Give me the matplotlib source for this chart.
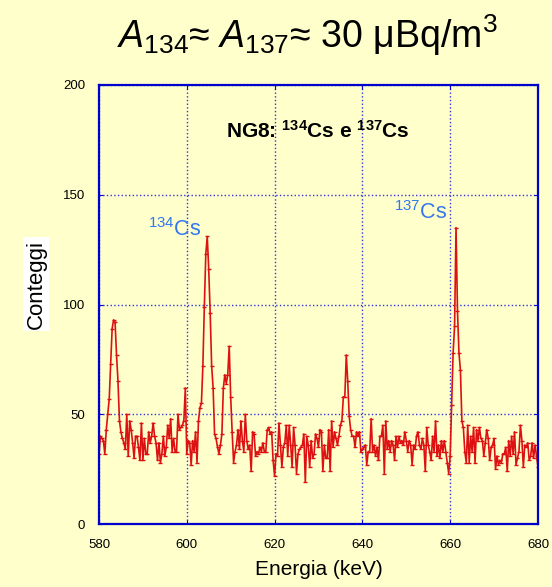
import numpy as np
import matplotlib.pyplot as plt

plt.rcParams['font.family'] = ['Liberation Sans', 'DejaVu Sans']
plt.rcParams['mathtext.fontset'] = 'custom'
plt.rcParams['mathtext.rm'] = 'Liberation Sans'
plt.rcParams['mathtext.it'] = 'Liberation Sans:italic'
plt.rcParams['mathtext.bf'] = 'Liberation Sans:bold'

# spectrum channels, 1/3 keV each, from 580 to 680 keV
e_start, e_stop = 580, 680
counts = [
    32, 40, 39, 38, 32, 43, 50, 57, 73, 89, 93, 92, 77, 65, 47,      # 580-585
    42, 39, 37, 34, 50, 31, 47, 43, 37, 30, 40, 40, 35, 29, 46,      # 585-590
    29, 39, 32, 32, 42, 37, 40, 46, 40, 37, 29, 37, 28, 32, 40,      # 590-595
    31, 35, 45, 39, 48, 33, 39, 33, 33, 50, 43, 44, 45, 47, 62,      # 595-600
    32, 38, 37, 27, 38, 33, 42, 28, 47, 53, 55, 72, 99, 123, 131,    # 600-605
    116, 96, 72, 62, 41, 39, 35, 32, 36, 41, 62, 68, 64, 68, 81,     # 605-610
    58, 42, 28, 33, 36, 43, 34, 47, 38, 33, 50, 38, 34, 36, 24,      # 610-615
    42, 41, 31, 33, 32, 35, 33, 37, 33, 33, 43, 44, 41, 42, 29,      # 615-620
    22, 32, 31, 46, 36, 26, 35, 37, 45, 31, 45, 36, 26, 44, 36,      # 620-625
    23, 32, 34, 35, 36, 41, 19, 40, 36, 26, 38, 30, 32, 41, 39,      # 625-630
    35, 43, 42, 24, 36, 30, 30, 43, 24, 47, 35, 42, 39, 36, 40,      # 630-635
    45, 47, 58, 58, 77, 65, 49, 43, 40, 40, 35, 42, 40, 42, 33,      # 635-640
    34, 35, 36, 27, 33, 33, 48, 33, 36, 31, 35, 29, 40, 40, 45,      # 640-645
    23, 47, 34, 38, 33, 38, 36, 29, 40, 35, 40, 37, 38, 36, 42,      # 645-650
    38, 33, 38, 36, 27, 36, 34, 40, 42, 36, 34, 39, 36, 24, 44,      # 650-655
    36, 33, 29, 40, 33, 47, 31, 36, 30, 38, 33, 38, 33, 28, 23,      # 655-660
    31, 54, 78, 90, 135, 97, 78, 70, 47, 44, 33, 28, 45, 28, 40,     # 660-665
    33, 44, 28, 43, 38, 44, 39, 38, 31, 37, 43, 39, 29, 35, 36,      # 665-670
    39, 25, 31, 27, 29, 28, 32, 32, 35, 24, 38, 31, 40, 32, 42,      # 670-675
    27, 30, 33, 45, 38, 26, 36, 35, 37, 29, 31, 37, 30, 36, 31,      # 675-680
    26,
]
energy = np.linspace(e_start, e_stop, len(counts))

title = r"$\mathit{A}_{134}$≈ $\mathit{A}_{137}$≈ 30 μBq/m$^{3}$"
box_label = r"NG8: $\mathbf{^{134}}$Cs e $\mathbf{^{137}}$Cs"

bg = '#FFFFCC'
blue = '#0000CC'

fig = plt.figure(figsize=(5.52, 5.87), dpi=100, facecolor=bg)
ax = fig.add_axes([0.1793, 0.1073, 0.7953, 0.7479], facecolor=bg)

ax.plot(energy, counts, color='#DD1111', lw=1.2, marker='_', ms=3, mew=1)

ax.set_xlim(580, 680)
ax.set_ylim(0, 200)
ax.set_xticks([580, 600, 620, 640, 660, 680])
ax.set_yticks([0, 50, 100, 150, 200])
ax.grid(True, color='#3333DD', ls=':', lw=1)

for s in ax.spines.values():
    s.set_color(blue)
    s.set_linewidth(1.6)
ax.tick_params(direction='in', length=3, color=blue, top=True, right=True,
               labelsize=9.5, labelcolor='black')
ax.tick_params(axis='x', pad=11)
ax.tick_params(axis='y', pad=10)

ax.set_xlabel("Energia (keV)", fontsize=15, labelpad=6)
fig.text(0.065, 0.516, "Conteggi", rotation=90, fontsize=16, ha='center', va='center',
         bbox=dict(facecolor='white', edgecolor='none', pad=2))

ax.text(0.499, 0.895, box_label, transform=ax.transAxes, ha='center', va='center',
        fontsize=15, fontweight='bold')
ax.text(597.3, 131, r"$^{134}$Cs", color='#3377EE', fontsize=15.5, ha='center', va='baseline')
ax.text(653.4, 139, r"$^{137}$Cs", color='#3377EE', fontsize=15.5, ha='center', va='baseline')

fig.text(0.556, 0.94, title, fontsize=27, ha='center', va='center')

fig.savefig('out.png', dpi=100, facecolor=bg)
